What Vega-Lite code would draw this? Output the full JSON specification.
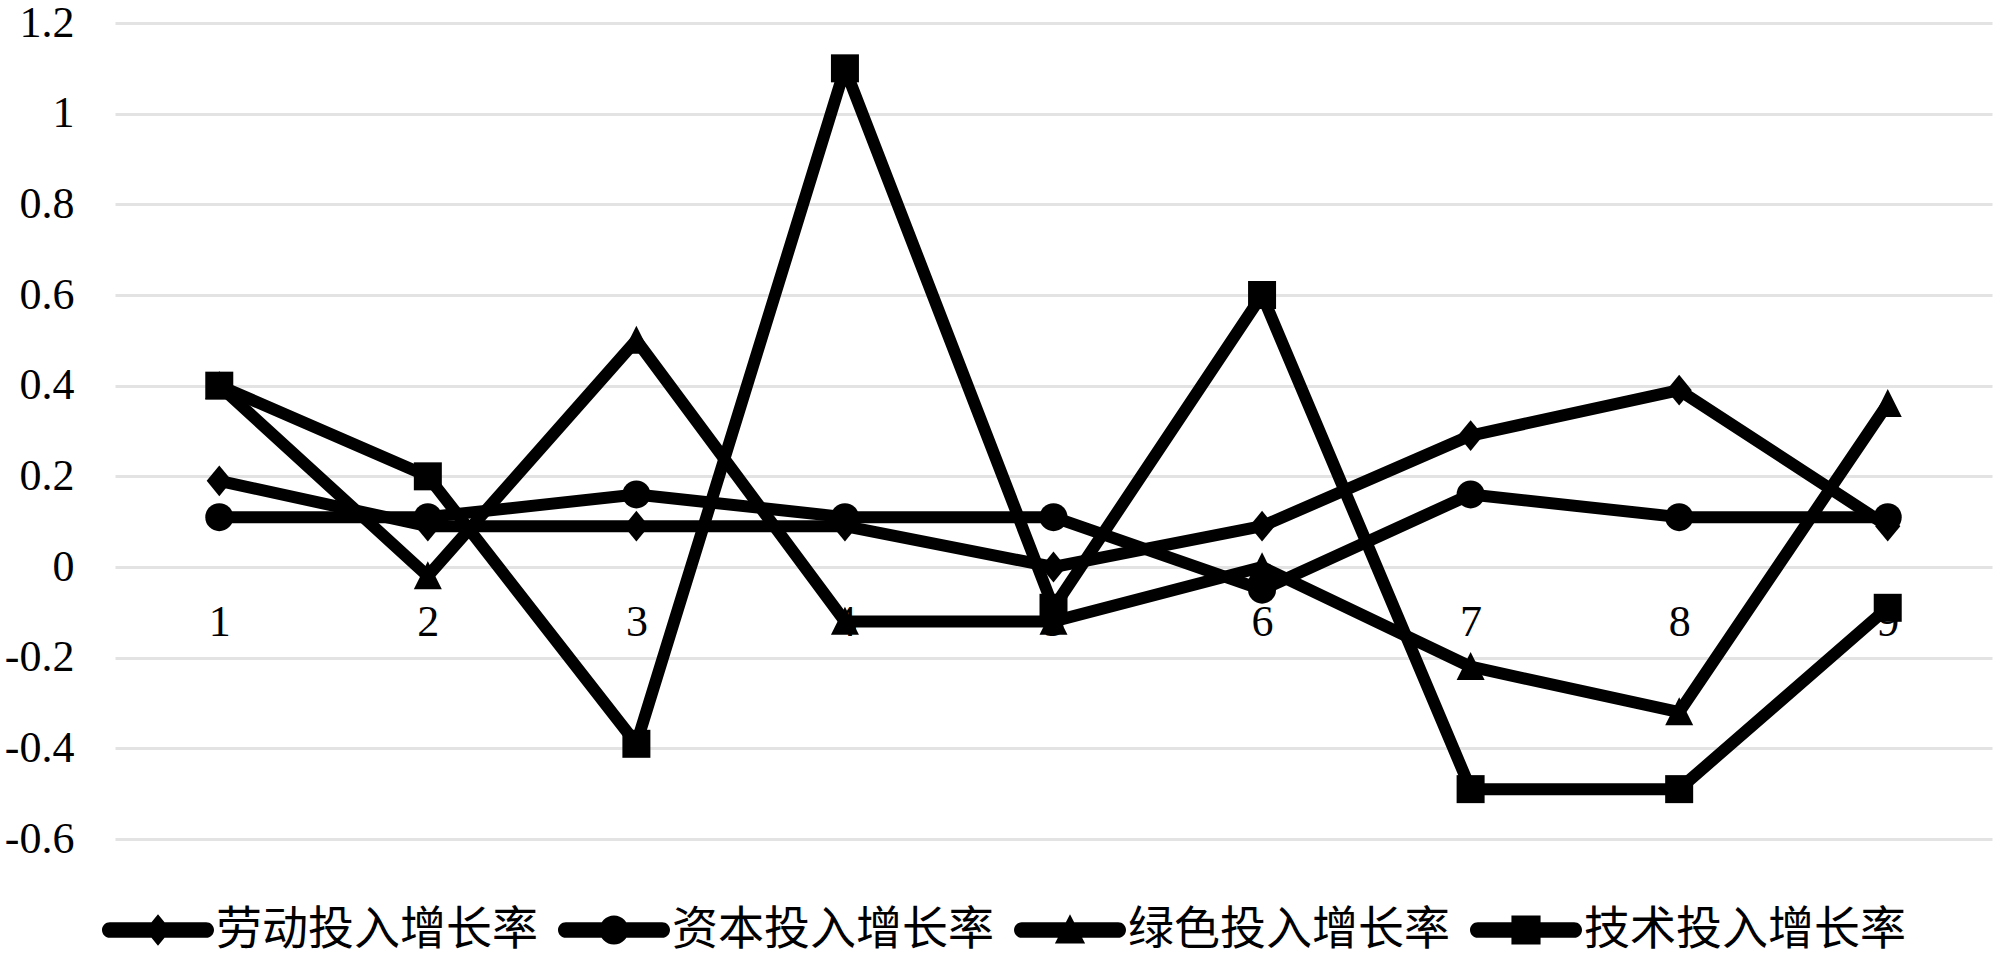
{
  "$schema": "https://vega.github.io/schema/vega-lite/v6.json",
  "width": 1877,
  "height": 816,
  "autosize": {"type": "none"},
  "padding": {"left": 115, "top": 23, "right": 8, "bottom": 125},
  "background": "white",
  "config": {"view": {"stroke": null}, "font": "Liberation Serif"},
  "data": {
    "values": [
      {"period": 1, "series": "劳动投入增长率", "value": 0.19},
      {"period": 2, "series": "劳动投入增长率", "value": 0.09},
      {"period": 3, "series": "劳动投入增长率", "value": 0.09},
      {"period": 4, "series": "劳动投入增长率", "value": 0.09},
      {"period": 5, "series": "劳动投入增长率", "value": 0.0},
      {"period": 6, "series": "劳动投入增长率", "value": 0.09},
      {"period": 7, "series": "劳动投入增长率", "value": 0.29},
      {"period": 8, "series": "劳动投入增长率", "value": 0.39},
      {"period": 9, "series": "劳动投入增长率", "value": 0.09},
      {"period": 1, "series": "资本投入增长率", "value": 0.11},
      {"period": 2, "series": "资本投入增长率", "value": 0.11},
      {"period": 3, "series": "资本投入增长率", "value": 0.16},
      {"period": 4, "series": "资本投入增长率", "value": 0.11},
      {"period": 5, "series": "资本投入增长率", "value": 0.11},
      {"period": 6, "series": "资本投入增长率", "value": -0.05},
      {"period": 7, "series": "资本投入增长率", "value": 0.16},
      {"period": 8, "series": "资本投入增长率", "value": 0.11},
      {"period": 9, "series": "资本投入增长率", "value": 0.11},
      {"period": 1, "series": "绿色投入增长率", "value": 0.4},
      {"period": 2, "series": "绿色投入增长率", "value": -0.02},
      {"period": 3, "series": "绿色投入增长率", "value": 0.5},
      {"period": 4, "series": "绿色投入增长率", "value": -0.12},
      {"period": 5, "series": "绿色投入增长率", "value": -0.12},
      {"period": 6, "series": "绿色投入增长率", "value": 0.0},
      {"period": 7, "series": "绿色投入增长率", "value": -0.22},
      {"period": 8, "series": "绿色投入增长率", "value": -0.32},
      {"period": 9, "series": "绿色投入增长率", "value": 0.36},
      {"period": 1, "series": "技术投入增长率", "value": 0.4},
      {"period": 2, "series": "技术投入增长率", "value": 0.2},
      {"period": 3, "series": "技术投入增长率", "value": -0.39},
      {"period": 4, "series": "技术投入增长率", "value": 1.1},
      {"period": 5, "series": "技术投入增长率", "value": -0.09},
      {"period": 6, "series": "技术投入增长率", "value": 0.6},
      {"period": 7, "series": "技术投入增长率", "value": -0.49},
      {"period": 8, "series": "技术投入增长率", "value": -0.49},
      {"period": 9, "series": "技术投入增长率", "value": -0.09}
    ]
  },
  "encoding": {
    "x": {
      "field": "period",
      "type": "ordinal",
      "scale": {"type": "point", "padding": 0.5},
      "axis": {
        "title": null,
        "domain": false,
        "ticks": false,
        "grid": false,
        "labelAngle": 0,
        "labelFont": "Liberation Serif",
        "labelFontSize": 44,
        "labelColor": "black",
        "labelBaseline": "middle",
        "labelPadding": 55,
        "offset": -272
      }
    },
    "y": {
      "field": "value",
      "type": "quantitative",
      "scale": {"domain": [-0.6, 1.2], "nice": false, "zero": false},
      "axis": {
        "title": null,
        "values": [-0.6, -0.4, -0.2, 0, 0.2, 0.4, 0.6, 0.8, 1, 1.2],
        "labelExpr": "'' + datum.value",
        "domain": false,
        "ticks": false,
        "tickSize": 0,
        "grid": true,
        "gridColor": "#e3e3e3",
        "gridWidth": 3,
        "labelFont": "Liberation Serif",
        "labelFontSize": 44,
        "labelColor": "black",
        "labelPadding": 41
      }
    }
  },
  "resolve": {"scale": {"shape": "independent"}, "legend": {"shape": "independent"}},
  "layer": [
    {
      "mark": {"type": "line", "strokeWidth": 12, "color": "black", "strokeJoin": "round"},
      "encoding": {"detail": {"field": "series", "type": "nominal"}}
    },
    {
      "mark": {"type": "point", "filled": true, "opacity": 1, "color": "black", "size": 784},
      "encoding": {
        "shape": {
          "field": "series",
          "type": "nominal",
          "scale": {
            "domain": ["劳动投入增长率", "资本投入增长率", "绿色投入增长率", "技术投入增长率"],
            "range": ["M0,-1.1 L0.9,0 L0,1.1 L-0.9,0 Z", "circle", "M0,-1.05 L1,0.95 L-1,0.95 Z", "square"]
          },
          "legend": null
        }
      }
    },
    {
      "transform": [{"filter": "datum.value > 50"}],
      "mark": {"type": "point", "filled": true, "opacity": 1, "color": "black"},
      "encoding": {
        "shape": {
          "field": "series",
          "type": "nominal",
          "scale": {
            "domain": ["劳动投入增长率", "资本投入增长率", "绿色投入增长率", "技术投入增长率"],
            "range": [
              "M-0.86,-0.14 H0.86 A0.14,0.14 0 0,1 0.86,0.14 H-0.86 A0.14,0.14 0 0,1 -0.86,-0.14 Z M0,-0.28 L0.23,0 L0,0.28 L-0.23,0 Z",
              "M-0.86,-0.14 H0.86 A0.14,0.14 0 0,1 0.86,0.14 H-0.86 A0.14,0.14 0 0,1 -0.86,-0.14 Z M0.26,0 A0.26,0.26 0 1,1 -0.26,0 A0.26,0.26 0 1,1 0.26,0 Z",
              "M-0.86,-0.14 H0.86 A0.14,0.14 0 0,1 0.86,0.14 H-0.86 A0.14,0.14 0 0,1 -0.86,-0.14 Z M0,-0.28 L0.27,0.24 L-0.27,0.24 Z",
              "M-0.86,-0.14 H0.86 A0.14,0.14 0 0,1 0.86,0.14 H-0.86 A0.14,0.14 0 0,1 -0.86,-0.14 Z M-0.26,-0.26 H0.26 V0.26 H-0.26 Z"
            ]
          },
          "legend": {
            "title": null,
            "orient": "none",
            "legendX": -13,
            "legendY": 851,
            "direction": "horizontal",
            "columns": 4,
            "padding": 0,
            "symbolSize": 12544,
            "symbolStrokeWidth": 0,
            "symbolFillColor": "black",
            "symbolOpacity": 1,
            "labelFont": "Noto Sans CJK SC",
            "labelFontSize": 46,
            "labelColor": "black",
            "labelLimit": 600,
            "labelOffset": 2,
            "columnPadding": 20
          }
        }
      }
    }
  ]
}
